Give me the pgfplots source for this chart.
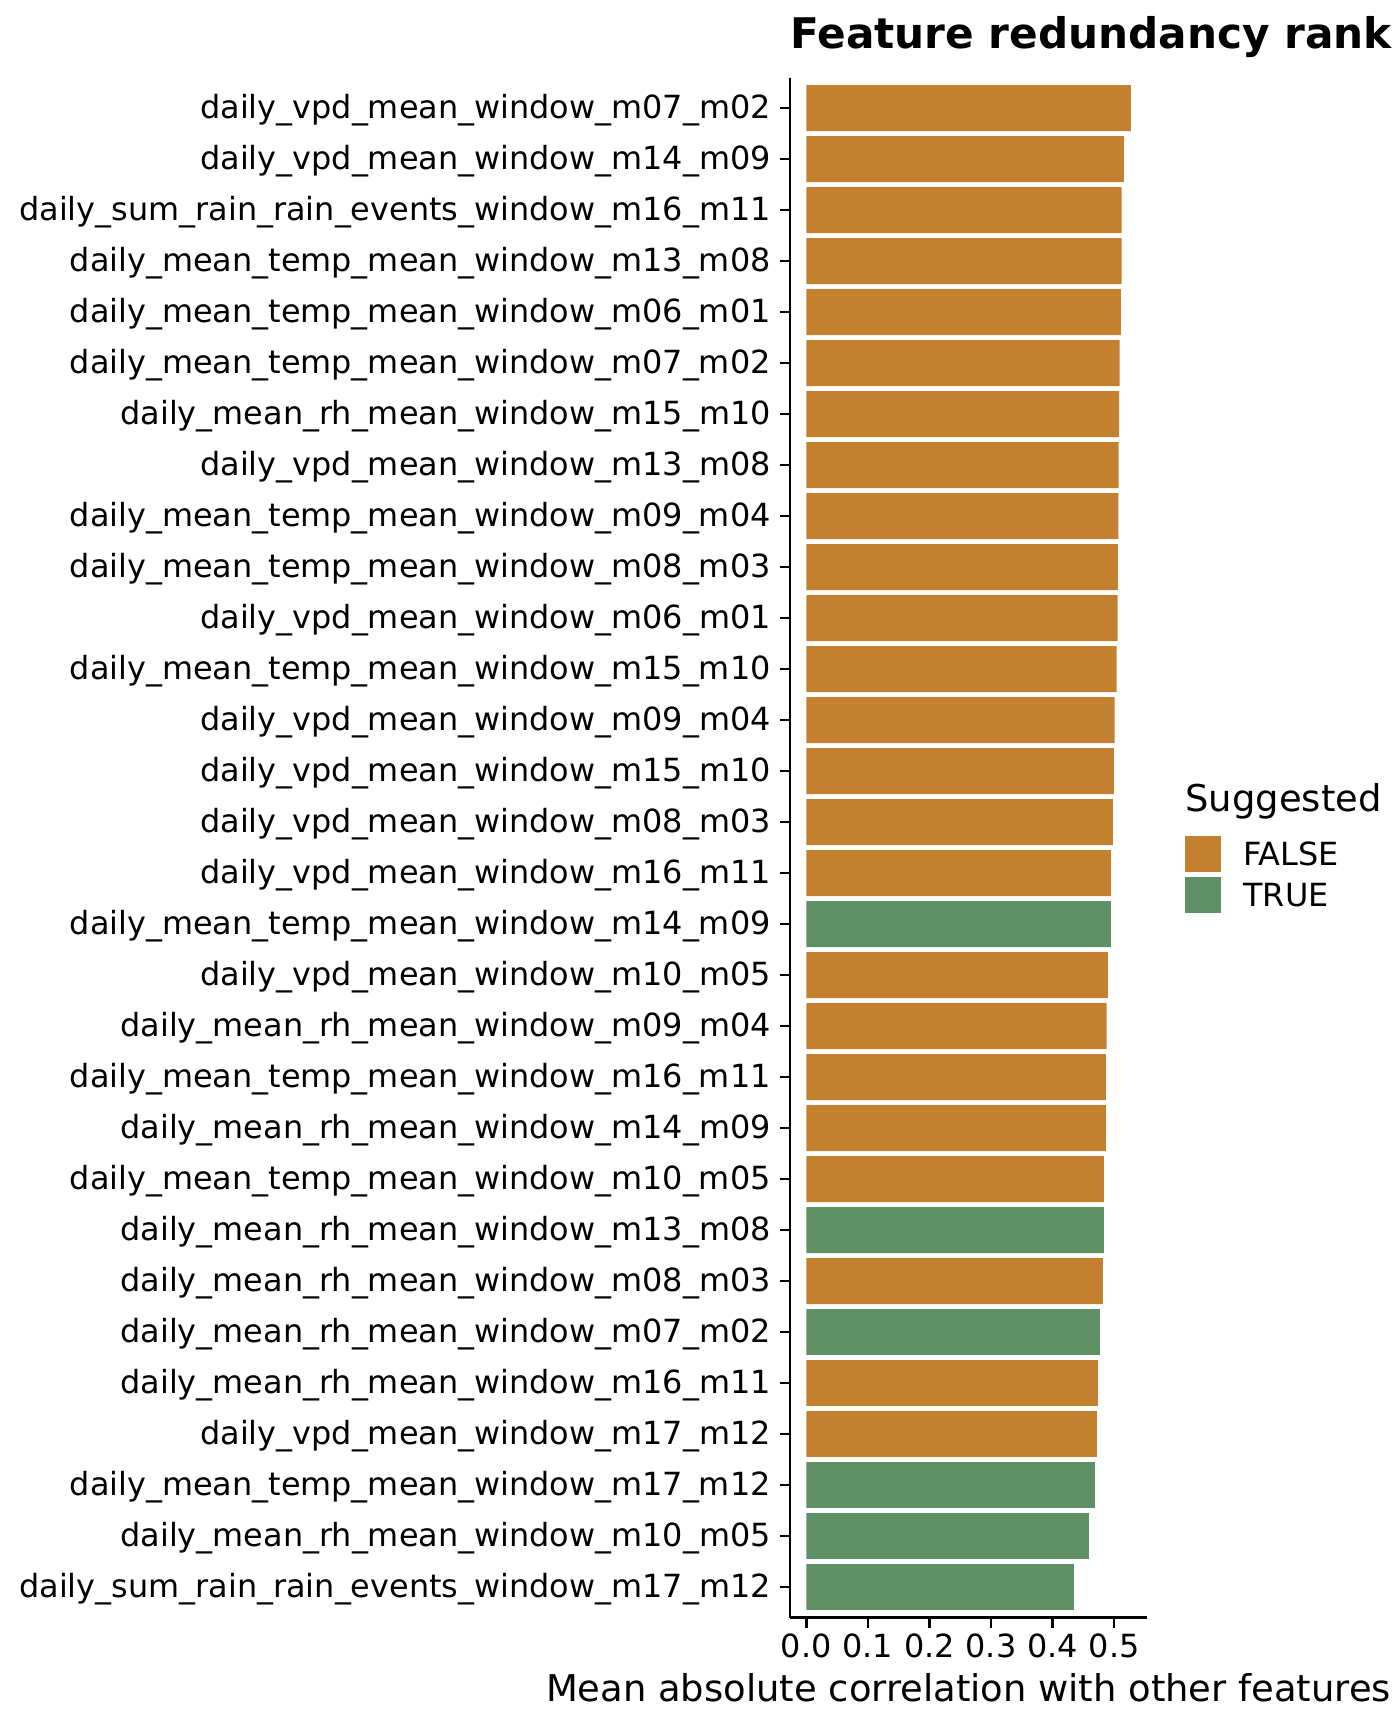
\documentclass[border=0pt]{standalone}
\usepackage{fontspec}
\setmainfont{DejaVu Sans}
\usepackage{pgfplots}
\pgfplotsset{compat=1.18}
\definecolor{SugFalse}{HTML}{C3802E}
\definecolor{SugTrue}{HTML}{5F8F65}
\newcommand{\tickfont}{\fontsize{15.95bp}{19bp}\selectfont}
\newcommand{\labfont}{\fontsize{18.45bp}{22bp}\selectfont}

\begin{document}
\begin{tikzpicture}
\path[use as bounding box] (0,0) rectangle (700bp,864bp);
\begin{axis}[
    at={(395bp,55.2bp)}, anchor=south west,
    width=178.5bp, height=770bp, scale only axis,
    xbar, bar width=0.9, bar shift=0pt,
    xmin=-0.0264, xmax=0.5534,
    ymin=0.4, ymax=30.6, y dir=reverse,
    axis x line*=bottom, axis y line*=left,
    axis line style={line width=1.25bp, black},
    every tick/.style={line width=1.25bp, black},
    tick align=outside, major tick length=5bp,
    xtick={0,0.1,0.2,0.3,0.4,0.5},
    xticklabels={0.0,0.1,0.2,0.3,0.4,0.5},
    ytick={1,...,30},
    yticklabels={
      daily\_vpd\_mean\_window\_m07\_m02,
      daily\_vpd\_mean\_window\_m14\_m09,
      daily\_sum\_rain\_rain\_events\_window\_m16\_m11,
      daily\_mean\_temp\_mean\_window\_m13\_m08,
      daily\_mean\_temp\_mean\_window\_m06\_m01,
      daily\_mean\_temp\_mean\_window\_m07\_m02,
      daily\_mean\_rh\_mean\_window\_m15\_m10,
      daily\_vpd\_mean\_window\_m13\_m08,
      daily\_mean\_temp\_mean\_window\_m09\_m04,
      daily\_mean\_temp\_mean\_window\_m08\_m03,
      daily\_vpd\_mean\_window\_m06\_m01,
      daily\_mean\_temp\_mean\_window\_m15\_m10,
      daily\_vpd\_mean\_window\_m09\_m04,
      daily\_vpd\_mean\_window\_m15\_m10,
      daily\_vpd\_mean\_window\_m08\_m03,
      daily\_vpd\_mean\_window\_m16\_m11,
      daily\_mean\_temp\_mean\_window\_m14\_m09,
      daily\_vpd\_mean\_window\_m10\_m05,
      daily\_mean\_rh\_mean\_window\_m09\_m04,
      daily\_mean\_temp\_mean\_window\_m16\_m11,
      daily\_mean\_rh\_mean\_window\_m14\_m09,
      daily\_mean\_temp\_mean\_window\_m10\_m05,
      daily\_mean\_rh\_mean\_window\_m13\_m08,
      daily\_mean\_rh\_mean\_window\_m08\_m03,
      daily\_mean\_rh\_mean\_window\_m07\_m02,
      daily\_mean\_rh\_mean\_window\_m16\_m11,
      daily\_vpd\_mean\_window\_m17\_m12,
      daily\_mean\_temp\_mean\_window\_m17\_m12,
      daily\_mean\_rh\_mean\_window\_m10\_m05,
      daily\_sum\_rain\_rain\_events\_window\_m17\_m12},
    /pgf/number format/assume math mode=true,
    xticklabel style={font=\tickfont, anchor=base, inner sep=0pt, yshift=-15bp},
    yticklabel style={font=\tickfont, anchor=base east, inner sep=0pt, xshift=-4.5bp, yshift=-5bp},
    title={Feature redundancy rank},
    title style={font=\fontsize{21.1bp}{25bp}\selectfont\bfseries, at={(0,1)}, anchor=base west, inner sep=0pt, yshift=8.8bp},
    xlabel={Mean absolute correlation with other features},
    xlabel style={font=\labfont, at={(0.5,0)}, anchor=base, inner sep=0pt, yshift=-42bp},
    legend image code/.code={\fill[#1] (0bp,-9bp) rectangle (18bp,9bp);},
    legend style={at={(1.1064,0.5075)}, anchor=north west, draw=none, fill=none,
      inner sep=0pt, row sep=2.5bp, column sep=11bp, font=\tickfont,
      nodes={inner sep=0pt, text height=11.5bp, text depth=0pt}},
    legend cell align=left,
    clip=false,
]
\addplot[draw=none, fill=SugFalse] coordinates {
  (0.527,1) (0.516,2) (0.512,3) (0.512,4) (0.511,5) (0.509,6) (0.508,7)
  (0.5075,8) (0.507,9) (0.506,10) (0.5055,11) (0.504,12) (0.501,13)
  (0.4995,14) (0.498,15) (0.4946,16) (0.4897,18) (0.488,19) (0.4865,20)
  (0.4865,21) (0.4832,22) (0.4816,24) (0.4735,26) (0.472,27)
};
\addplot[draw=none, fill=SugTrue] coordinates {
  (0.4946,17) (0.4832,23) (0.4767,25) (0.4686,28) (0.4589,29) (0.4346,30)
};
\legend{FALSE,TRUE}
\end{axis}
\node[anchor=base west, inner sep=0pt, font=\labfont] at (592.5bp,458bp) {Suggested};
\end{tikzpicture}
\end{document}
